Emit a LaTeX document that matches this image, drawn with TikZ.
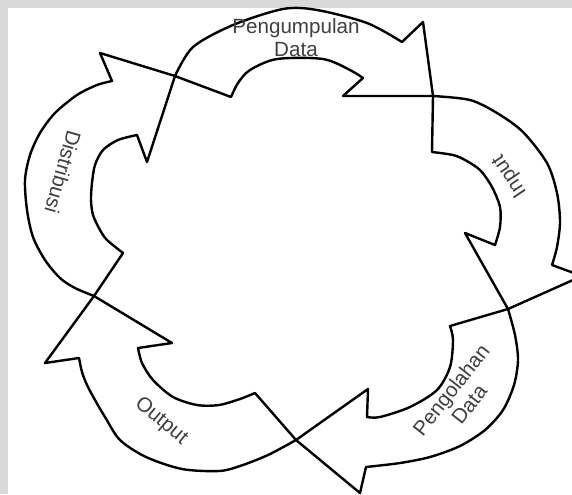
\documentclass[tikz,border=0pt]{standalone}
\usepackage{fontspec}
\setmainfont{Liberation Sans}
\definecolor{bandgray}{HTML}{D9D9D9}
\definecolor{labelgray}{HTML}{404040}
\begin{document}
\begin{tikzpicture}[x=0.5pt,y=-0.5pt,
  arrowband/.style={draw=black, line width=1.2pt, line join=round},
  steplabel/.style={text=labelgray, font=\fontsize{10.3}{11.5}\selectfont, align=center, inner sep=0pt}]
\useasboundingbox (0,0) rectangle (572,494);
% page frame: grey strip on the top and left
\fill[bandgray] (0,0) rectangle (572,494);
\fill[white] (8,8) rectangle (572,494);

% junctions where one arrow's tip meets the next arrow's tail
\coordinate (j1) at (175,76);
\coordinate (j2) at (433,96);
\coordinate (j3) at (508,309);
\coordinate (j4) at (296,440);
\coordinate (j5) at (94,296);

% Pengumpulan Data
\draw[arrowband] (j1) -- plot[smooth] coordinates {(175,76) (193,47) (233,25) (283,9) (317,10) (367,23) (402,42)}
  -- (423,22) -- (j2) -- (343,96) -- (363,78)
  -- plot[smooth] coordinates {(363,78) (350,70) (323,59) (277,59) (250,70) (238,83) (231,97)} -- cycle;

% Input
\draw[arrowband] (j2) -- plot[smooth] coordinates {(433,96) (470,100) (497,113) (523,132) (547,163) (557,193) (560,222) (557,247) (552,265)}
  -- (582,276) -- (j3) -- (465,233) -- (495,245)
  -- plot[smooth] coordinates {(495,245) (500,227) (500,207) (492,187) (480,170) (465,160) (453,155) (432,152)} -- cycle;

% Pengolahan Data
\draw[arrowband] (j3) -- plot[smooth] coordinates {(508,309) (515,335) (518,360) (514,385) (503,410) (485,430) (460,446) (430,457) (400,463) (366,467)}
  -- (360,493) -- (j4) -- (368,389) -- (367,417)
  -- plot[smooth] coordinates {(367,417) (380,417) (410,407) (437,390) (450,367) (453,340) (450,326)} -- cycle;

% Output
\draw[arrowband] (j4) -- plot[smooth] coordinates {(296,440) (268,455) (240,466) (219,471) (182,469) (146,457) (120,440) (105,417) (95,400) (87,385) (82,372) (79,358)}
  -- (45,363) -- (j5) -- (172,343) -- (138,348)
  -- plot[smooth] coordinates {(138,348) (142,363) (153,380) (173,397) (197,405) (219,405) (240,399) (255,393)} -- cycle;

% Distribusi
\draw[arrowband] (j5) -- plot[smooth] coordinates {(94,296) (75,288) (60,278) (45,260) (33,237) (27,210) (25,180) (30,155) (40,133) (55,113) (77,95) (97,85) (112,81)}
  -- (100,53) -- (j1) -- (147,162) -- (137,135)
  -- plot[smooth] coordinates {(137,135) (118,140) (103,150) (95,165) (92,183) (91,200) (93,215) (100,230) (107,240) (123,253)} -- cycle;

% labels
\node[steplabel] (lblcollect) at (296,38) {Pengumpulan\\Data};
\node[steplabel, rotate=124] (lblinput) at (510,176) {Input};
\node[steplabel, rotate=52] (lblprocess) at (460,397) {Pengolahan\\Data};
\node[steplabel, rotate=-40] (lbloutput) at (161,421) {Output};
\node[steplabel, rotate=-106] (lbldist) at (63,172) {Distribusi};
\end{tikzpicture}
\end{document}
